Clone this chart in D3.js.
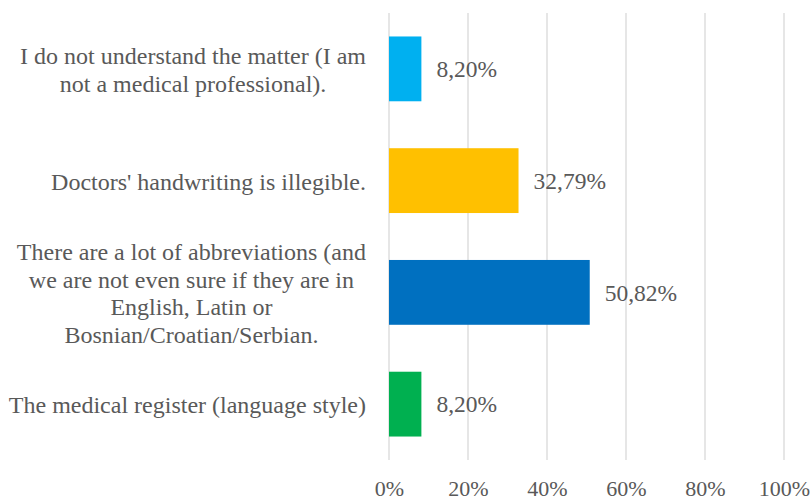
<!DOCTYPE html>
<html>
<head>
<meta charset="utf-8">
<script src="https://cdn.jsdelivr.net/npm/d3@7"></script>
<style>
  html, body { margin: 0; padding: 0; background: #fff; }
  svg { display: block; }
</style>
</head>
<body>
<svg id="chart" width="811" height="499"></svg>
<script>
// Reasons respondents gave for finding medical records hard to read
const categories = [
  "I do not understand the matter (I am\nnot a medical professional).",
  "Doctors' handwriting is illegible.",
  "There are a lot of abbreviations (and\nwe are not even sure if they are in\nEnglish, Latin or\nBosnian/Croatian/Serbian.",
  "The medical register (language style)"
];
const values = [8.20, 32.79, 50.82, 8.20];
const colors = ["#00B0F0", "#FFC000", "#0070C0", "#00B050"];
const tickValues = [0, 20, 40, 60, 80, 100];

const FONT = "'Liberation Serif'";
const TEXT_COLOR = "#595959";

const svg = d3.select("#chart");
const margin = { left: 389, right: 27, top: 13, bottom: 39 };
const W = 811, H = 499;

const x = d3.scaleLinear().domain([0, 100]).range([margin.left, W - margin.right]);
const y = d3.scaleBand().domain(d3.range(categories.length))
  .range([margin.top, H - margin.bottom]).paddingInner(0.42).paddingOuter(0.21);

// vertical gridlines
svg.append("g").selectAll("line").data(tickValues).join("line")
  .attr("x1", d => x(d)).attr("x2", d => x(d))
  .attr("y1", margin.top).attr("y2", H - margin.bottom)
  .attr("stroke", "#D9D9D9").attr("stroke-width", 1.3);

// x axis tick labels
const xAxis = d3.axisBottom(x).tickValues(tickValues).tickSize(0).tickPadding(0)
  .tickFormat(d => d + "%");
const gx = svg.append("g").attr("transform", `translate(0,${H - margin.bottom})`).call(xAxis);
gx.select(".domain").remove();
gx.selectAll("text")
  .attr("y", 0).attr("dy", null).attr("transform", "translate(0,35.5)")
  .style("font-family", FONT).style("font-size", "22px").style("fill", TEXT_COLOR);

// bars
svg.append("g").selectAll("rect").data(values).join("rect")
  .attr("x", x(0)).attr("y", (d, i) => y(i))
  .attr("width", d => x(d) - x(0)).attr("height", y.bandwidth())
  .attr("fill", (d, i) => colors[i]);

// value labels
svg.append("g").selectAll("text").data(values).join("text")
  .attr("x", d => x(d) + 15)
  .attr("y", (d, i) => y(i) + y.bandwidth() / 2)
  .attr("dy", "0.35em")
  .style("font-family", FONT).style("font-size", "23.5px").style("fill", TEXT_COLOR)
  .text(d => d.toFixed(2).replace(".", ",") + "%");

// category labels: block right-aligned, lines centred within the block
const lineH = 27.7;
const rightEdge = 366;
const labels = svg.append("g");
categories.forEach((c, i) => {
  const lines = c.split("\n");
  const cy = y(i) + y.bandwidth() / 2;
  const t = labels.append("text").attr("text-anchor", "middle")
    .style("font-family", FONT).style("font-size", "24px").style("fill", TEXT_COLOR);
  const spans = lines.map((ln, k) => t.append("tspan")
    .attr("y", cy + (k - (lines.length - 1) / 2) * lineH)
    .attr("dy", "0.38em").text(ln));
  const maxW = d3.max(spans, s => s.node().getComputedTextLength());
  spans.forEach(s => s.attr("x", rightEdge - maxW / 2));
});
</script>
</body>
</html>
